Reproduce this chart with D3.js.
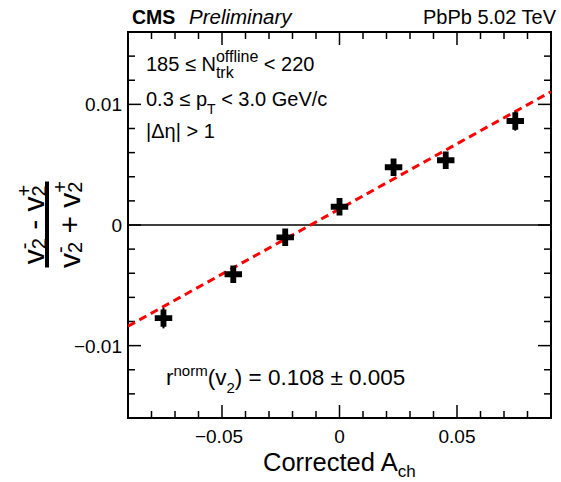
<!DOCTYPE html>
<html><head><meta charset="utf-8">
<script src="https://cdn.jsdelivr.net/npm/d3@7"></script>
<style>body{margin:0;background:#fff}svg{display:block}text{font-family:"Liberation Sans",Arial,Helvetica,sans-serif;fill:#000}</style>
</head><body>
<script>
const achValues = [-0.0749, -0.0452, -0.0231, 0.0000, 0.0230, 0.0452, 0.0748];
const ratioValues = [-0.00772, -0.00408, -0.00102, 0.00151, 0.00479, 0.00537, 0.00862];
const ratioErrors = [0.00085, 0.0005, 0.0004, 0.0004, 0.0005, 0.0004, 0.0008];
const fitSlope = 0.108;
const fitIntercept = 0.00133;
const xMajorTicks = [-0.05, 0, 0.05];
const xTickLabels = ["\u22120.05", "0", "0.05"];
const yMajorTicks = [-0.01, 0, 0.01];
const yTickLabels = ["\u22120.01", "0", "0.01"];

const W = 561, H = 482;
const L = 128, R = 551, T = 32, B = 418;
const svg = d3.select("body").append("svg").attr("width", W).attr("height", H);
const x = d3.scaleLinear().domain([-0.09, 0.09]).range([L, R]);
const y = d3.scaleLinear().domain([-0.016, 0.016]).range([B, T]);

svg.append("clipPath").attr("id", "c").append("rect")
  .attr("x", L).attr("y", T).attr("width", R - L).attr("height", B - T);

// rich text helper: segs = [{t}] or [{sup, sub, supDy, subDy}]
function rich(parent, x0, y0, fs, segs, anchor, transform) {
  const g = parent.append("g");
  if (transform) g.attr("transform", transform);
  const inner = g.append("g");
  let cx = 0;
  const ss = fs * 0.68;
  segs.forEach(s => {
    if (s.t !== undefined) {
      const el = inner.append("text").attr("x", cx).attr("y", 0).attr("font-size", fs)
        .attr("xml:space", "preserve").style("white-space", "pre").text(s.t);
      cx += el.node().getComputedTextLength();
    } else {
      let w = 0;
      if (s.sup) {
        const e = inner.append("text").attr("x", cx).attr("y", s.supDy !== undefined ? s.supDy : -fs * 0.45)
          .attr("font-size", s.size || ss).text(s.sup);
        w = Math.max(w, e.node().getComputedTextLength());
      }
      if (s.sub) {
        const e = inner.append("text").attr("x", cx + (s.subDx || 0)).attr("y", s.subDy !== undefined ? s.subDy : fs * 0.3)
          .attr("font-size", s.size || ss).text(s.sub);
        w = Math.max(w, e.node().getComputedTextLength() + (s.subDx || 0));
      }
      cx += w;
    }
  });
  let off = 0;
  if (anchor === "middle") off = -cx / 2;
  if (anchor === "end") off = -cx;
  inner.attr("transform", `translate(${x0 + off},${y0})`);
  return g;
}

// zero line
svg.append("line").attr("x1", L).attr("x2", R).attr("y1", y(0)).attr("y2", y(0))
  .attr("stroke", "#000").attr("stroke-width", 1.5);

// ticks
const xMinor = d3.range(-8, 9).map(i => i * 0.01);
const yMinor = d3.range(-7, 8).map(i => i * 0.002);
const isMajor = (v, step) => Math.abs(Math.round(v / step) * step - v) < 1e-9;
const tk = svg.append("g").attr("stroke", "#000").attr("stroke-width", 1.5);
xMinor.forEach(v => {
  const len = isMajor(v, 0.05) ? 13 : 7;
  tk.append("line").attr("x1", x(v)).attr("x2", x(v)).attr("y1", B).attr("y2", B - len);
  tk.append("line").attr("x1", x(v)).attr("x2", x(v)).attr("y1", T).attr("y2", T + len);
});
yMinor.forEach(v => {
  const len = isMajor(v, 0.01) ? 13 : 7;
  tk.append("line").attr("y1", y(v)).attr("y2", y(v)).attr("x1", L).attr("x2", L + len);
  tk.append("line").attr("y1", y(v)).attr("y2", y(v)).attr("x1", R).attr("x2", R - len);
});

// tick labels
svg.append("g").selectAll("text").data(xMajorTicks).join("text")
  .attr("x", (d, i) => x(d) + (i === 0 ? -3 : 0)).attr("y", 443).attr("text-anchor", "middle")
  .attr("font-size", 19).text((d, i) => xTickLabels[i]);
svg.append("g").selectAll("text").data(yMajorTicks).join("text")
  .attr("x", 122).attr("y", d => y(d) + 7).attr("text-anchor", "end")
  .attr("font-size", 19).text((d, i) => yTickLabels[i]);

// frame
svg.append("rect").attr("x", L).attr("y", T).attr("width", R - L).attr("height", B - T)
  .attr("fill", "none").attr("stroke", "#000").attr("stroke-width", 2);

// fit line
const fx = x.domain();
svg.append("line").attr("clip-path", "url(#c)")
  .attr("x1", x(fx[0])).attr("y1", y(fitIntercept + fitSlope * fx[0]))
  .attr("x2", x(fx[1])).attr("y2", y(fitIntercept + fitSlope * fx[1]))
  .attr("stroke", "#ff0000").attr("stroke-width", 3).attr("stroke-dasharray", "8,5");

// error bars
const pts = achValues.map((a, i) => ({a, r: ratioValues[i], e: ratioErrors[i]}));
svg.append("g").selectAll("line").data(pts).join("line")
  .attr("x1", d => x(d.a)).attr("x2", d => x(d.a))
  .attr("y1", d => y(d.r - d.e)).attr("y2", d => y(d.r + d.e))
  .attr("stroke", "#000").attr("stroke-width", 2);
// markers
svg.append("g").selectAll("path").data(pts).join("path")
  .attr("transform", d => `translate(${x(d.a)},${y(d.r)})`)
  .attr("d", d3.symbol(d3.symbolCross, 170)).attr("fill", "#000");

// header
svg.append("text").attr("x", 132).attr("y", 24).attr("font-size", 19.5).attr("font-weight", "bold").text("CMS");
svg.append("text").attr("x", 189).attr("y", 24).attr("font-size", 20.5).attr("font-style", "italic").text("Preliminary");
svg.append("text").attr("x", 556).attr("y", 24).attr("font-size", 20).attr("text-anchor", "end").text("PbPb 5.02 TeV");

// info text
rich(svg, 146, 71, 20, [{t: "185 \u2264 N"}, {sup: "offline", sub: "trk", supDy: -9, subDy: 7, size: 16}, {t: " < 220"}]);
rich(svg, 146, 106, 20, [{t: "0.3 \u2264 p"}, {sub: "T", subDy: 8, size: 14}, {t: " < 3.0 GeV/c"}]);
rich(svg, 146, 138, 20, [{t: "|\u0394\u03b7| > 1"}]);

// r norm
rich(svg, 166, 385, 22.5, [{t: "r"}, {sup: "norm", supDy: -9, size: 15}, {t: "(v"}, {sub: "2", subDy: 8, size: 15}, {t: ") = 0.108 \u00b1 0.005"}]);

// x title
rich(svg, 263, 471, 25.5, [{t: "Corrected A"}, {sub: "ch", subDy: 6, size: 17}]);

// y title fraction (rotated)
const yg = svg.append("g").attr("transform", "translate(47,224.5) rotate(-90)");
yg.append("line").attr("x1", -43).attr("x2", 43).attr("y1", 0).attr("y2", 0).attr("stroke", "#000").attr("stroke-width", 4);
const vt = sign => ({sup: sign, sub: "2", supDy: -13, subDy: 2, size: 20});
rich(yg, 0, -3, 30, [{t: "v"}, vt("-"), {t: " - "}, {t: "v"}, vt("+")], "middle");
rich(yg, 0, 33, 30, [{t: "v"}, vt("-"), {t: " + "}, {t: "v"}, vt("+")], "middle");
</script>
</body></html>
